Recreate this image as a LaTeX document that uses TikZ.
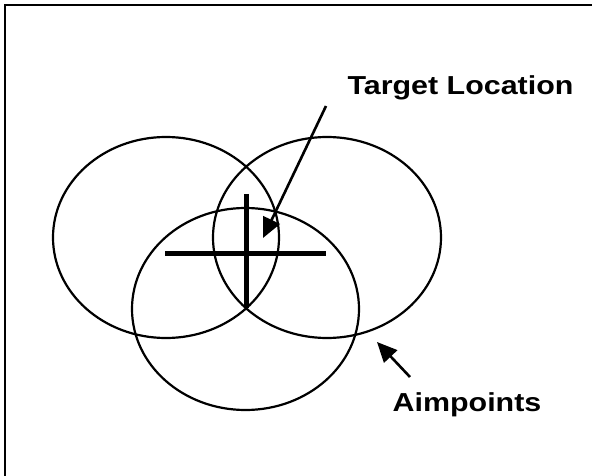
\documentclass[tikz,border=0pt]{standalone}
\usepackage{fontspec}
\setmainfont{Liberation Sans}
\usetikzlibrary{arrows.meta}

\begin{document}
\begin{tikzpicture}[
  x=1pt, y=-1pt,
  >={Triangle[length=20pt, width=18pt]},
  ring/.style={draw=black, line width=2.2pt},
  crossbar/.style={draw=black, line width=5pt},
  callout/.style={->, draw=black, line width=2.6pt},
  lbl/.style={font=\fontsize{26}{30}\selectfont\bfseries, inner sep=0pt, anchor=base, xscale=1.17}]

\useasboundingbox (0,0) rectangle (592,476);

% ===== frame =====
\draw[line width=2pt] (5,476) -- (5,5) -- (592,5);

% ===== aimpoint rings =====
\draw[ring] (166,237.5) ellipse [x radius=113, y radius=100.5];
\draw[ring] (327,237.5) ellipse [x radius=114, y radius=100.5];
\draw[ring] (245.5,309) ellipse [x radius=113.5, y radius=101];

% ===== target cross =====
\coordinate (hl) at (165,253.5);
\coordinate (hr) at (326,253.5);
\coordinate (vt) at (246.7,194);
\coordinate (vb) at (246.7,308);
\draw[crossbar] (hl) -- (hr);
\draw[crossbar] (vt) -- (vb);

% ===== labels =====
\node[lbl] (tgt) at (460.5,95)  {Target Location};
\node[lbl] (aim) at (467,411)   {Aimpoints};

% ===== arrows =====
\coordinate (tgtTail) at (326,106);
\coordinate (tgtTip)  at (263,238);
\coordinate (aimTail) at (410,377);
\coordinate (aimTip)  at (377,342);
\draw[callout] (tgtTail) -- (tgtTip);
\draw[callout] (aimTail) -- (aimTip);

\end{tikzpicture}
\end{document}
